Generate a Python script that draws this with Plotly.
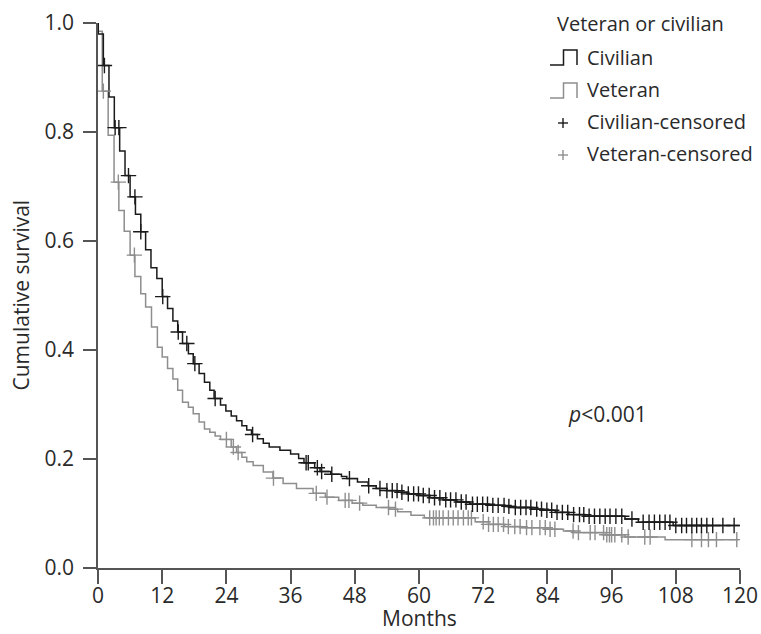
import numpy as np
import plotly.graph_objects as go

# ---- data (months, cumulative survival) ----
civ_t = [0, 0.05, 1.0, 2.05, 3.05, 4.05, 5.05, 6.0, 7.0, 8.0, 8.9, 9.9, 11.0, 12.0, 13.0,
         14.0, 14.9, 15.8, 16.9, 17.8, 18.9, 19.9, 20.9, 21.7, 22.9, 23.9, 24.9, 25.9,
         26.9, 27.8, 28.7, 29.8, 30.9, 32.0, 34.0, 36.0, 37.5, 38.5, 40.5, 41.5, 43.5,
         45.5, 46.5, 48.5, 50.5, 52.0, 54.0, 56.0, 58.0, 60.0, 62.0, 64.5, 67.0, 69.5,
         73.0, 76.0, 78.0, 81.0, 83.0, 85.5, 88.0, 91.0, 98.5, 101.0, 107.5, 119.9]
civ_s = [1.0, 0.98, 0.922, 0.864, 0.808, 0.765, 0.720, 0.681, 0.649, 0.617, 0.584, 0.551,
         0.531, 0.498, 0.476, 0.453, 0.433, 0.412, 0.393, 0.375, 0.357, 0.341, 0.326,
         0.311, 0.299, 0.288, 0.279, 0.270, 0.261, 0.253, 0.245, 0.237, 0.229, 0.222,
         0.216, 0.209, 0.201, 0.193, 0.184, 0.177, 0.172, 0.168, 0.164, 0.158, 0.151,
         0.146, 0.142, 0.139, 0.136, 0.133, 0.129, 0.125, 0.121, 0.117, 0.115, 0.113,
         0.111, 0.108, 0.106, 0.102, 0.098, 0.095, 0.090, 0.084, 0.078, 0.078]

vet_t = [0, 0.05, 0.8, 1.9, 3.0, 3.9, 4.9, 6.0, 6.9, 8.0, 8.9, 10.0, 11.1, 12.0, 13.0,
         14.0, 14.9, 15.8, 16.9, 17.8, 18.9, 19.9, 20.9, 21.9, 22.9, 24.9, 25.9, 26.9,
         27.8, 29.0, 30.9, 32.7, 34.6, 37.1, 40.2, 42.5, 45.0, 47.5, 49.5, 52.0, 54.5,
         56.0, 58.5, 61.0, 70.5, 73.0, 76.0, 79.0, 84.0, 87.0, 89.0, 95.0, 98.5, 106.0,
         119.7]
vet_s = [1.0, 0.985, 0.875, 0.794, 0.708, 0.656, 0.618, 0.574, 0.535, 0.503, 0.479,
         0.442, 0.405, 0.387, 0.366, 0.347, 0.326, 0.304, 0.295, 0.283, 0.268, 0.255,
         0.249, 0.242, 0.236, 0.222, 0.212, 0.203, 0.195, 0.188, 0.176, 0.165, 0.155,
         0.146, 0.137, 0.130, 0.124, 0.119, 0.115, 0.111, 0.108, 0.103, 0.097, 0.092,
         0.085, 0.080, 0.076, 0.074, 0.071, 0.068, 0.065, 0.061, 0.057, 0.052, 0.052]

civ_cens = [1.2, 3.2, 3.9, 5.7, 6.9, 8.0, 12.1, 15.0, 16.6, 18.1, 21.9, 28.9, 38.9, 39.3,
            41.0, 41.8, 43.7, 47.0, 50.6, 52.7, 54.0, 55.0, 55.9, 56.8, 58.0, 59.0, 59.9,
            60.8, 61.9, 62.9, 63.9, 65.0, 65.9, 66.9, 67.9, 68.8, 70.0, 70.9, 71.9, 72.8,
            73.8, 74.8, 75.9, 76.8, 78.0, 79.0, 80.0, 80.9, 82.0, 82.9, 83.9, 84.8, 85.8,
            86.8, 87.8, 88.9, 90.0, 90.8, 91.8, 92.8, 93.8, 94.8, 95.7, 96.8, 97.9, 99.8,
            101.9, 103.0, 104.0, 105.0, 106.0, 106.9, 108.0, 109.1, 110.0, 111.0, 111.9,
            112.8, 113.8, 114.9, 116.8, 118.9]
vet_cens = [1.0, 3.8, 6.8, 24.0, 25.3, 26.2, 32.8, 40.8, 42.8, 46.2, 46.9, 48.9, 54.3,
            55.6, 62.0, 62.7, 63.2, 63.8, 64.5, 65.5, 66.4, 67.3, 68.3, 69.2, 69.8, 72.0,
            73.0, 73.9, 74.8, 75.8, 76.7, 77.9, 78.9, 80.1, 81.1, 82.6, 83.6, 84.5, 85.4,
            88.8, 89.8, 92.0, 92.9, 94.5, 95.1, 95.6, 96.0, 96.6, 97.9, 99.1, 102.2, 103.2,
            111.0, 112.8, 114.1, 115.6, 119.4]

x_ticks = [0, 12, 24, 36, 48, 60, 72, 84, 96, 108, 120]
y_ticks = [0.0, 0.2, 0.4, 0.6, 0.8, 1.0]

legend_title = "Veteran or civilian"
legend_items = ["Civilian", "Veteran", "Civilian-censored", "Veteran-censored"]

BLACK = "#1a1a1a"
GRAY = "#8e8e8e"
TXT = "#2a2a2a"
AX = "#555555"
FONT = "Open Sans"
FS = 21
FS_LEG = 20


def surv_at(t, s, times):
    t = np.asarray(t)
    s = np.asarray(s)
    idx = np.searchsorted(t, np.asarray(times), side="right") - 1
    return s[idx]


fig = go.Figure()
fig.add_trace(go.Scatter(x=vet_t, y=vet_s, mode="lines", line=dict(color=GRAY, width=1.5, shape="hv"),
                         name="Veteran"))
fig.add_trace(go.Scatter(x=civ_t, y=civ_s, mode="lines", line=dict(color=BLACK, width=1.5, shape="hv"),
                         name="Civilian"))
fig.add_trace(go.Scatter(x=vet_cens, y=surv_at(vet_t, vet_s, vet_cens), mode="markers",
                         marker=dict(symbol="cross-thin", size=11, line=dict(color=GRAY, width=1.4)),
                         name="Veteran-censored"))
fig.add_trace(go.Scatter(x=civ_cens, y=surv_at(civ_t, civ_s, civ_cens), mode="markers",
                         marker=dict(symbol="cross-thin", size=11, line=dict(color=BLACK, width=1.4)),
                         name="Civilian-censored"))

W, H = 761, 634
L, R, T, B = 98, 21, 23, 66
pw, ph = W - L - R, H - T - B


def px(xp):
    return (xp - L) / pw


def py(yp):
    return (H - B - yp) / ph


shapes = []
annotations = []
# legend title
annotations.append(dict(x=px(555), y=py(23), xref="paper", yref="paper", text=legend_title,
                        showarrow=False, xanchor="left", yanchor="middle",
                        font=dict(family=FONT, size=FS_LEG, color=TXT)))
item_y = [57, 90, 122, 154]
item_col = [BLACK, GRAY, BLACK, GRAY]
for i, (name, yc, col) in enumerate(zip(legend_items, item_y, item_col)):
    annotations.append(dict(x=px(585), y=py(yc), xref="paper", yref="paper", text=name,
                            showarrow=False, xanchor="left", yanchor="middle",
                            font=dict(family=FONT, size=FS_LEG, color=TXT)))
    if i < 2:
        x0, x1, x2 = px(550), px(563.5), px(577)
        yb, yt = py(yc + 8), py(yc - 7)
        path = f"M {x0},{yb} L {x1},{yb} L {x1},{yt} L {x2},{yt} L {x2},{yb}"
        shapes.append(dict(type="path", path=path, xref="paper", yref="paper",
                           line=dict(color=col, width=1.5)))
    else:
        shapes.append(dict(type="line", xref="paper", yref="paper", x0=px(558), x1=px(568),
                           y0=py(yc + 1), y1=py(yc + 1), line=dict(color=col, width=1.4)))
        shapes.append(dict(type="line", xref="paper", yref="paper", x0=px(563), x1=px(563),
                           y0=py(yc - 4), y1=py(yc + 6), line=dict(color=col, width=1.4)))

annotations.append(dict(x=px(566), y=py(414), xref="paper", yref="paper",
                        text="<i>p</i>&lt;0.001", showarrow=False, xanchor="left",
                        yanchor="middle", font=dict(family=FONT, size=FS, color=TXT)))
annotations.append(dict(x=0.5, y=py(633), xref="paper", yref="paper", text="Months",
                        showarrow=False, xanchor="center", yanchor="bottom", borderpad=0,
                        font=dict(family=FONT, size=FS, color=TXT)))
annotations.append(dict(x=px(20), y=0.5, xref="paper", yref="paper", text="Cumulative survival",
                        showarrow=False, xanchor="center", yanchor="middle", textangle=-90,
                        font=dict(family=FONT, size=FS, color=TXT)))

fig.update_layout(
    width=W, height=H, autosize=False,
    margin=dict(l=L, r=R, t=T, b=B, pad=0, autoexpand=False),
    paper_bgcolor="white", plot_bgcolor="white",
    showlegend=False,
    shapes=shapes, annotations=annotations,
    font=dict(family=FONT, size=FS, color=TXT),
)
fig.update_xaxes(range=[0, 120], tickvals=x_ticks, ticktext=[str(v) for v in x_ticks],
                 showgrid=False, zeroline=False, showline=True, linecolor=AX, linewidth=1.5,
                 ticks="outside", ticklen=14, tickwidth=1.5, tickcolor=AX, automargin=False,
                 ticklabelstandoff=-6,
                 tickfont=dict(family=FONT, size=FS, color=TXT))
fig.update_yaxes(range=[0, 1], tickvals=y_ticks, ticktext=[f"{v:.1f}" for v in y_ticks],
                 showgrid=False, zeroline=False, showline=True, linecolor=AX, linewidth=1.5,
                 ticks="outside", ticklen=13, tickwidth=1.5, tickcolor=AX, automargin=False,
                 ticklabelstandoff=5,
                 tickfont=dict(family=FONT, size=FS, color=TXT))

fig.write_html("out.html", config={"displayModeBar": False},
               post_script="document.body.style.margin='0';document.body.style.overflow='hidden';")
